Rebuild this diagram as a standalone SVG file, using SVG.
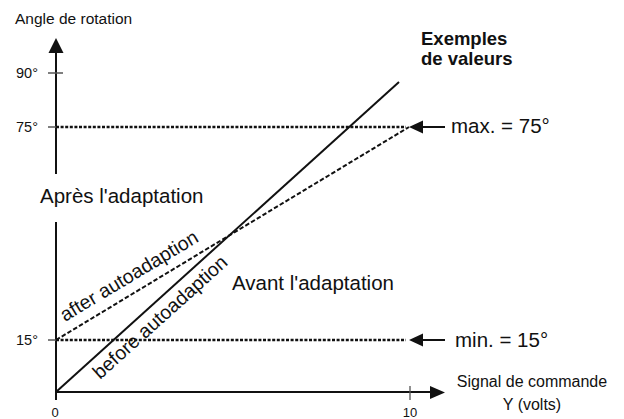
<svg xmlns="http://www.w3.org/2000/svg" width="624" height="419" viewBox="0 0 624 419">
<style>
text{font-family:"Liberation Sans",Arial,sans-serif;fill:#111}
.ax{stroke:#111;stroke-width:2;fill:none}
.tk{stroke:#555;stroke-width:1.3;fill:none}
.dot{stroke:#111;stroke-width:2.6;stroke-dasharray:3 1.6;fill:none}
.dash{stroke:#111;stroke-width:2;stroke-dasharray:4.5 2.2;fill:none}
.ah{fill:#111}
.lbl{font-size:14.5px}
.big{font-size:20.5px}
.rot{font-size:19.5px}
</style>
<rect width="624" height="419" fill="#fff"/>
<g id="connectors">
<path class="ax" d="M56,53 V174 M56,222 V400 M56,392 H431"/>
<polygon class="ah" points="56,38 48.5,53 63.5,53"/>
<polygon class="ah" points="445,392.5 430,386 430,399"/>
<path class="tk" d="M48,73 H63 M48,127 H56 M48,340 H56 M410,386 V400"/>
<path class="dot" d="M56,127 H406 M56,340 H406"/>
<path class="ax" d="M56,392 L399,82"/>
<path class="dash" d="M56,340 L409,127"/>
<path class="ax" d="M445,127 H421 M445,340 H421"/>
<polygon class="ah" points="409,127 423,120.5 423,133.5"/>
<polygon class="ah" points="409,340 423,333.5 423,346.5"/>
</g>
<g id="y-axis-label"><text x="15" y="24" font-size="15.5">Angle de rotation</text></g>
<g id="y-ticks">
<text class="lbl" x="16" y="78">90°</text>
<text class="lbl" x="16" y="132">75°</text>
<text class="lbl" x="16" y="345">15°</text>
</g>
<g id="x-ticks">
<text x="55" y="417" font-size="13" text-anchor="middle">0</text>
<text x="410" y="417" font-size="13" text-anchor="middle">10</text>
</g>
<g id="x-axis-label">
<text x="532" y="387" font-size="16" text-anchor="middle">Signal de commande</text>
<text x="532" y="410" font-size="16" text-anchor="middle">Y (volts)</text>
</g>
<g id="examples">
<text x="421" y="45" font-size="18.5" font-weight="bold">Exemples</text>
<text x="421" y="65" font-size="18.5" font-weight="bold">de valeurs</text>
</g>
<g id="max"><text class="big" x="451" y="133">max. = 75°</text></g>
<g id="min"><text class="big" x="455" y="347">min. = 15°</text></g>
<g id="apres"><text class="big" x="40" y="203">Après l'adaptation</text></g>
<g id="avant"><text class="big" x="232" y="290">Avant l'adaptation</text></g>
<g id="after"><text class="rot" transform="translate(65,322) rotate(-31)">after autoadaption</text></g>
<g id="before"><text class="rot" transform="translate(100,380) rotate(-42)">before autoadaption</text></g>
</svg>
